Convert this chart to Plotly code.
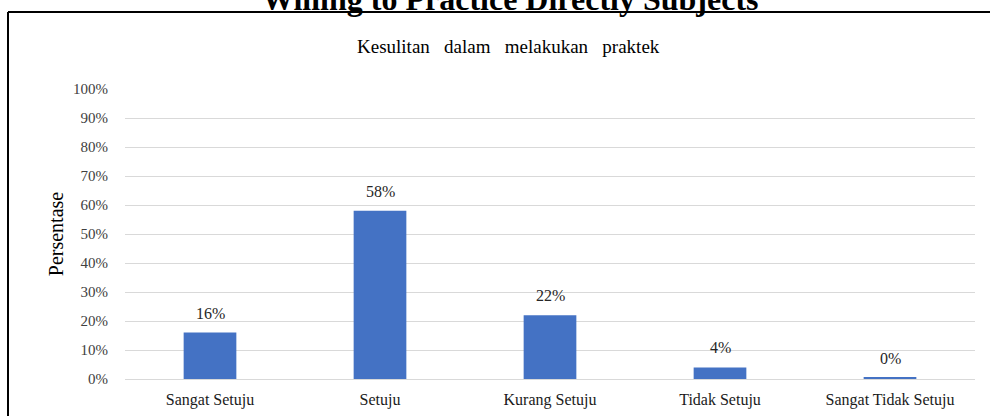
import plotly.graph_objects as go

categories = ["Sangat Setuju", "Setuju", "Kurang Setuju", "Tidak Setuju", "Sangat Tidak Setuju"]
values = [16, 58, 22, 4, 0.5]
labels = ["16%", "58%", "22%", "4%", "0%"]
y_ticks = [0, 10, 20, 30, 40, 50, 60, 70, 80, 90, 100]
y_tick_text = [f"{v}%" for v in y_ticks]

FONT = "Liberation Serif"

fig = go.Figure()
fig.add_trace(go.Bar(
    x=categories, y=values,
    marker=dict(color="#4472C4", line=dict(width=0)),
    hoverinfo="skip",
))

annotations = []
for c, v, t in zip(categories, values, labels):
    annotations.append(dict(
        x=c, y=v, xref="x", yref="y", text=t, showarrow=False,
        yanchor="bottom", yshift=9,
        font=dict(family=FONT, size=16, color="#262626"),
    ))

# Cropped page title above the chart box
annotations.append(dict(
    x=(510 - 125) / 850, y=(379 - 11) / 290, xref="paper", yref="paper",
    text="<b>Willing to Practice Directly Subjects</b>", showarrow=False,
    xanchor="center", yanchor="bottom", yshift=-8,
    font=dict(family=FONT, size=32, color="#000000"),
))
# Chart subtitle
annotations.append(dict(
    x=(508 - 125) / 850, y=(379 - 47) / 290, xref="paper", yref="paper",
    text="Kesulitan&nbsp;&nbsp; dalam&nbsp;&nbsp; melakukan&nbsp;&nbsp; praktek", showarrow=False,
    xanchor="center", yanchor="middle",
    font=dict(family=FONT, size=19, color="#000000"),
))

shapes = [
    dict(type="line", xref="paper", yref="paper",
         x0=(8 - 125) / 850, x1=(8 - 125) / 850, y0=(379 - 12) / 290, y1=-0.3,
         line=dict(color="#000000", width=2)),
    dict(type="line", xref="paper", yref="paper",
         x0=(8 - 125) / 850, x1=1.1, y0=(379 - 12) / 290, y1=(379 - 12) / 290,
         line=dict(color="#000000", width=2)),
]

fig.update_layout(
    width=990, height=416,
    margin=dict(l=125, r=15, t=89, b=37, autoexpand=False),
    paper_bgcolor="white", plot_bgcolor="white",
    showlegend=False,
    bargap=0.69,
    font=dict(family=FONT, size=15, color="#404040"),
    annotations=annotations,
    shapes=shapes,
    xaxis=dict(
        automargin=False,
        showgrid=False, showline=False, zeroline=False,
        ticks="outside", ticklen=6, tickcolor="rgba(0,0,0,0)",
        tickfont=dict(family=FONT, size=16, color="#1a1a1a"),
    ),
    yaxis=dict(
        automargin=False,
        range=[0, 100], tickvals=y_ticks, ticktext=y_tick_text,
        showgrid=True, gridcolor="#D9D9D9", gridwidth=1,
        zeroline=True, zerolinecolor="#D9D9D9", zerolinewidth=1,
        showline=False,
        ticks="outside", ticklen=13, tickcolor="rgba(0,0,0,0)",
        tickfont=dict(family=FONT, size=15, color="#404040"),
        title=dict(text="Persentase", font=dict(family=FONT, size=20, color="#000000"), standoff=4),
    ),
)

fig.write_html("out.html", config={"displayModeBar": False},
               post_script="document.body.style.margin='0';document.body.style.padding='0';")
